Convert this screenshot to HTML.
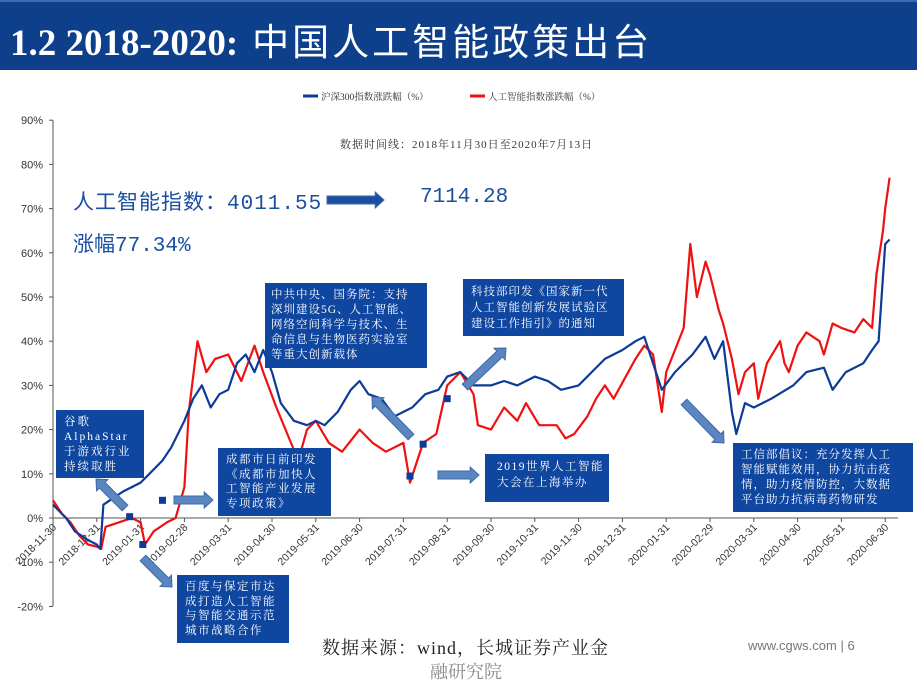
<!DOCTYPE html>
<html><head><meta charset="utf-8">
<style>
body{margin:0;width:917px;height:666px;overflow:hidden;background:#fff;font-family:"Liberation Serif","Noto Serif CJK SC",serif;position:relative}
.hdr{position:absolute;left:0;top:0;width:917px;height:70px;background:#0e3f8b;border-top:2px solid #3b6bb5;box-sizing:border-box}
.hdr span{position:absolute;left:10px;top:10px;color:#fff;font-size:37px;font-weight:bold;white-space:nowrap}
.hdr span b{font-family:"Liberation Sans","Noto Sans CJK SC",sans-serif;font-weight:normal;margin-left:14px;letter-spacing:3px}
.box{position:absolute;background:#0f46a0;color:#fff;font-size:11.5px;line-height:16px;letter-spacing:1.5px;padding:5px 8px;box-sizing:border-box;font-family:"Liberation Serif","Noto Serif CJK SC",serif;white-space:nowrap}
.t{position:absolute;white-space:nowrap}
</style></head><body>
<div class="hdr"><span>1.2 2018-2020:<b>中国人工智能政策出台</b></span></div>
<svg id="chart" width="917" height="666" style="position:absolute;left:0;top:0"></svg>
<div class="t" style="left:340px;top:136px;font-size:11px;color:#333;letter-spacing:1px">数据时间线：2018年11月30日至2020年7月13日</div>
<div class="t" style="left:73px;top:186px;font-size:21px;color:#1a4fa0;font-family:'Liberation Mono','Noto Sans CJK SC',monospace;letter-spacing:1px">人工智能指数：4011.55</div>
<div class="t" style="left:420px;top:186px;font-size:21px;color:#1a4fa0;font-family:'Liberation Mono','Noto Sans CJK SC',monospace">7114.28</div>
<div class="t" style="left:73px;top:228px;font-size:21px;color:#1a4fa0;font-family:'Liberation Mono','Noto Sans CJK SC',monospace">涨幅77.34%</div>
<div class="box" style="left:56px;top:410px;width:88px;height:68px;letter-spacing:2px;line-height:15px">谷歌<br>AlphaStar<br>于游戏行业<br>持续取胜</div>
<div class="box" style="left:218px;top:448px;width:113px;height:68px;line-height:14.5px">成都市日前印发<br>《成都市加快人<br>工智能产业发展<br>专项政策》</div>
<div class="box" style="left:177px;top:575px;width:112px;height:68px;line-height:14.5px">百度与保定市达<br>成打造人工智能<br>与智能交通示范<br>城市战略合作</div>
<div class="box" style="left:265px;top:283px;width:162px;height:85px;line-height:15px;letter-spacing:1px;padding-left:6px">中共中央、国务院：支持<br>深圳建设5G、人工智能、<br>网络空间科学与技术、生<br>命信息与生物医药实验室<br>等重大创新载体</div>
<div class="box" style="left:463px;top:279px;width:161px;height:57px;letter-spacing:1px">科技部印发《国家新一代<br>人工智能创新发展试验区<br>建设工作指引》的通知</div>
<div class="box" style="left:485px;top:454px;width:124px;height:48px;padding-left:12px">2019世界人工智能<br>大会在上海举办</div>
<div class="box" style="left:733px;top:443px;width:180px;height:69px;line-height:15px;letter-spacing:1px">工信部倡议：充分发挥人工<br>智能赋能效用，协力抗击疫<br>情，助力疫情防控，大数据<br>平台助力抗病毒药物研发</div>
<div class="t" style="left:322px;top:634px;font-size:18px;color:#222;letter-spacing:1px">数据来源：wind，长城证券产业金</div>
<div class="t" style="left:430px;top:658px;font-size:18px;color:#888">融研究院</div>
<div class="t" style="left:748px;top:638px;font-size:13px;color:#777;font-family:'Liberation Sans',sans-serif">www.cgws.com | 6</div>
<script>
const monthLabels=["2018-11-30","2018-12-31","2019-01-31","2019-02-28","2019-03-31","2019-04-30","2019-05-31","2019-06-30","2019-07-31","2019-08-31","2019-09-30","2019-10-31","2019-11-30","2019-12-31","2020-01-31","2020-02-29","2020-03-31","2020-04-30","2020-05-31","2020-06-30"];
const yTicks=[90,80,70,60,50,40,30,20,10,0,-10,-20];
const hsT=[0,0.3,0.5,0.8,1.0,1.08,1.15,1.3,1.6,1.8,2.0,2.2,2.5,2.7,3.0,3.2,3.4,3.6,3.8,4.0,4.2,4.4,4.6,4.8,5.0,5.2,5.5,5.8,6.0,6.2,6.5,6.8,7.0,7.2,7.5,7.8,8.0,8.2,8.5,8.8,9.0,9.3,9.6,10.0,10.3,10.6,11.0,11.3,11.6,12.0,12.3,12.6,13.0,13.3,13.5,13.9,14.2,14.6,14.9,15.1,15.3,15.5,15.6,15.8,16.0,16.4,16.9,17.2,17.6,17.8,18.1,18.5,18.7,18.85,19.0,19.1];
const hsV=[3,0,-3,-5,-6,-7,3,4,6,7,8,10,13,16,22,27,30,25,28,29,35,37,33,38,33,26,22,21,22,21,24,29,31,28,27,23,24,25,28,29,32,33,30,30,31,30,32,31,29,30,33,36,38,40,41,29,33,37,41,36,40,24,19,26,25,27,30,33,34,29,33,35,38,40,62,63];
const aiT=[0,0.2,0.4,0.6,0.8,1.0,1.1,1.2,1.5,1.8,2.0,2.1,2.3,2.6,2.8,3.0,3.1,3.3,3.5,3.7,4.0,4.3,4.6,4.8,5.1,5.6,5.8,6.0,6.3,6.6,7.0,7.3,7.6,8.0,8.15,8.45,8.75,9.0,9.3,9.6,9.7,10.0,10.3,10.6,10.8,11.1,11.5,11.7,11.9,12.2,12.4,12.6,12.8,13.3,13.5,13.7,13.9,14.0,14.2,14.4,14.55,14.7,14.9,15.0,15.2,15.3,15.5,15.65,15.8,16.0,16.1,16.3,16.6,16.7,16.8,17.0,17.2,17.5,17.6,17.8,18.0,18.3,18.5,18.7,18.8,18.95,19.0,19.1];
const aiV=[4,1,-1,-4,-6,-6.5,-7,-2,-1,0,-1,-6,-3,-1,0,7,24,40,33,36,37,31,39,33,25,13,20,22,17,15,20,17,15,17,8,17,19,30,33,28,21,20,25,22,26,21,21,18,19,23,27,30,27,36,39,37,24,33,38,43,62,50,58,55,47,44,36,28,33,35,27,35,40,35,33,39,42,40,37,44,43,42,45,43,55,65,70,77];
const markT=[1.75,2.05,2.5,8.15,8.45,9.0];
const markV=[0.3,-6,4,9.5,16.7,27];
const svg=document.getElementById('chart'),NS='http://www.w3.org/2000/svg';
const X0=53,DX=43.8,Y0=518,DY=4.42;
const xs=t=>X0+t*DX, ys=v=>Y0-v*DY;
function mk(tag,at){const e=document.createElementNS(NS,tag);for(const k in at)e.setAttribute(k,at[k]);svg.appendChild(e);return e;}
let e;
e=mk('line',{x1:X0,y1:ys(90),x2:X0,y2:ys(-20),stroke:'#555','stroke-width':1});


yTicks.forEach(v=>{
  mk('line',{x1:X0-4,y1:ys(v),x2:X0,y2:ys(v),stroke:'#555'});
  const t=mk('text',{x:X0-10,y:ys(v)+4,'text-anchor':'end','font-size':11,fill:'#333','font-family':'Liberation Sans,sans-serif'});
  t.textContent=v+'%';
  
  
});
e=mk('line',{x1:X0,y1:Y0,x2:898,y2:Y0,stroke:'#555'});


monthLabels.forEach((l,i)=>{
  const x=xs(i);
  mk('line',{x1:x,y1:Y0,x2:x,y2:Y0+4,stroke:'#555'});
  const t=mk('text',{x:x+4,y:Y0+10,'text-anchor':'end','font-size':10.5,fill:'#333','font-family':'Liberation Sans,sans-serif',transform:`rotate(-45 ${x+4} ${Y0+10})`});
  t.textContent=l;
  
  
});
function line(T,V,c,name){
  const p=mk('polyline',{points:T.map((t,i)=>xs(t).toFixed(1)+','+ys(V[i]).toFixed(1)).join(' '),fill:'none',stroke:c,'stroke-width':2.2,'stroke-linejoin':'round'});
  
  
}
line(aiT,aiV,'#f01010','ai-index-line');
line(hsT,hsV,'#0c3a99','csi300-line');
markT.forEach((t,i)=>{
  const r=mk('rect',{x:xs(t)-3.5,y:ys(markV[i])-3.5,width:7,height:7,fill:'#0c3a99'});
  
  
});
mk('line',{x1:303,y1:96,x2:318,y2:96,stroke:'#0c3a99','stroke-width':3});
e=mk('text',{x:321,y:100,'font-size':9.5,fill:'#333'});e.textContent='沪深300指数涨跌幅（%）';


mk('line',{x1:470,y1:96,x2:485,y2:96,stroke:'#f01010','stroke-width':3});
e=mk('text',{x:488,y:100,'font-size':9.5,fill:'#333'});e.textContent='人工智能指数涨跌幅（%）';


function arrow(x1,y1,x2,y2,w,fill,name){
  const a=Math.atan2(y2-y1,x2-x1)*180/Math.PI,L=Math.hypot(x2-x1,y2-y1),h=w*1.1;
  const g=mk('polygon',{points:`0,${-w/2} ${L-h},${-w/2} ${L-h},${-w} ${L},0 ${L-h},${w} ${L-h},${w/2} 0,${w/2}`,fill:fill,stroke:'#3d6aa8','stroke-width':1,transform:`translate(${x1} ${y1}) rotate(${a})`});
  
  
}
arrow(125,508,96,479,8,'#5b86bf','arrow-alphastar');
arrow(174,500,213,500,8,'#5b86bf','arrow-chengdu');
arrow(143,558,172,587,8,'#5b86bf','arrow-baidu');
arrow(411,437,372,397,8,'#5b86bf','arrow-central-gov');
arrow(438,475,479,475,8,'#5b86bf','arrow-waic');
arrow(465,387,506,348,8,'#5b86bf','arrow-most');
arrow(684,402,724,443,8,'#5b86bf','arrow-miit');
arrow(327,200,384,200,8,'#1a4fa0','arrow-index-change');
</script>
</body></html>
